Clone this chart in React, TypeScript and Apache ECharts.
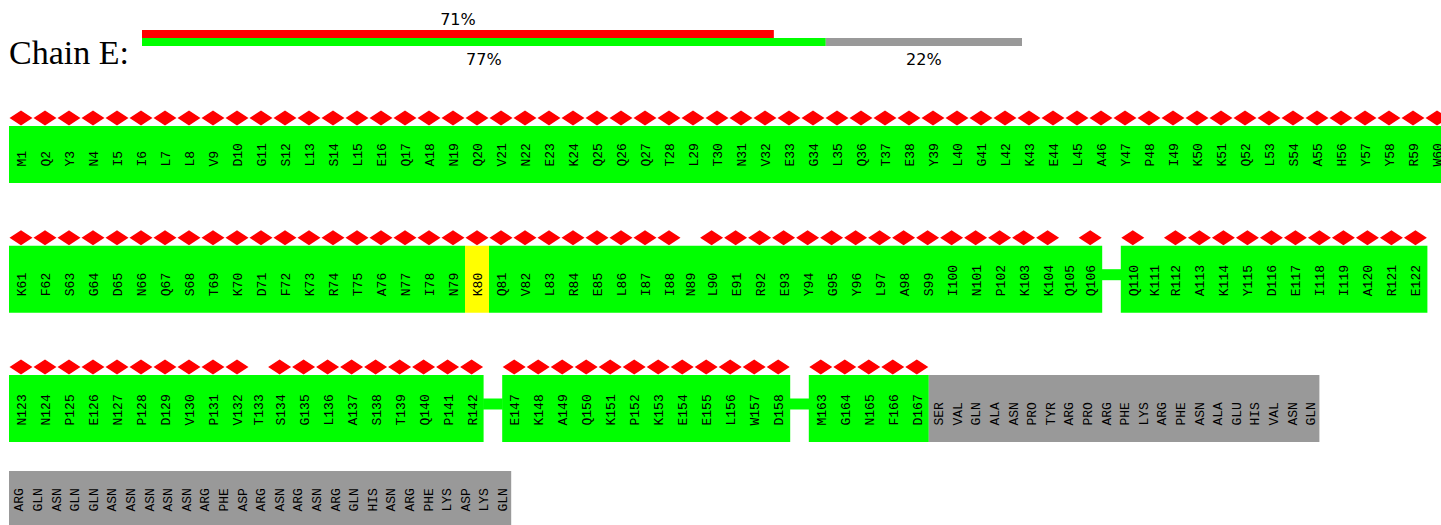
import React, { useEffect, useRef } from "react";
import * as echarts from "echarts";

// ---------- data ----------
const chainLabel = "Chain E:";
const segmentStarts = [1, 61, 110, 123, 147, 163];
const segmentSequences = [
  "MQYNIILLVDGSLSLEQANQVNEKQQQTLTNVEGLQTEYLGLKELAYPIKKQLSAHYYRW",
  "KFSGDNQSTKDFKRTANINKQVLRELIINLEREYGYLASINPKKQQ",
  "QKRAKYDEIIARE",
  "NNPENPDVPVTSGLASTQPR",
  "EKAQKPKEELWD",
  "MGNFD",
];
const segmentRows = [0, 1, 1, 2, 2, 2];
const unmodelledResidues = [
  "SER", "VAL", "GLN", "ALA", "ASN", "PRO", "TYR", "ARG", "PRO", "ARG", "PHE",
  "LYS", "ARG", "PHE", "ASN", "ALA", "GLU", "HIS", "VAL", "ASN", "GLN",
  "ARG", "GLN", "ASN", "GLN", "GLN", "ASN", "ASN", "ASN", "ASN", "ASN", "ARG",
  "PHE", "ASP", "ARG", "ASN", "ARG", "ASN", "ARG", "GLN", "HIS", "ASN", "ARG",
  "PHE", "LYS", "ASP", "LYS", "GLN",
];
const unmodelledPerRow = [0, 0, 21, 27];
const residuesWithoutOutlierMark = [89, 105, 111, 133];
const yellowResidues = [80];
const barCategories = ["quality", "outliers"];
const greenShare = [77.7];
const greyShare = [22.3];
const outlierShare = [71.8];

// ---------- layout / style ----------
const WIDE = 24;
const NARROW = 18.6;
const GAP = 18.6;
const LEFT = 9;
const ROW_TOP = [126, 245.7, 375, 471];
const ROW_H = [57, 67, 67, 57];
const GREEN = "#00ff00";
const YELLOW = "#ffff00";
const GREY = "#999999";
const RED = "#ff0000";

type Res = { x0: number; x1: number; row: number; label: string };
type Run = { x0: number; x1: number; row: number; color: string; link: boolean };

function buildLayout() {
  const residues: Res[] = [];
  const runs: Run[] = [];
  const diamonds: number[][] = [];
  let un = 0;
  const addRun = (x0: number, x1: number, row: number, color: string) => {
    const last = runs[runs.length - 1];
    if (last && !last.link && last.row === row && last.color === color && Math.abs(last.x1 - x0) < 1e-6) last.x1 = x1;
    else runs.push({ x0, x1, row, color, link: false });
  };
  for (let r = 0; r < ROW_TOP.length; r++) {
    let x = LEFT;
    let first = true;
    segmentStarts.forEach((start, s) => {
      if (segmentRows[s] !== r) return;
      if (!first) {
        runs.push({ x0: x, x1: x + GAP, row: r, color: GREEN, link: true });
        x += GAP;
      }
      first = false;
      const seq = segmentSequences[s];
      for (let i = 0; i < seq.length; i++) {
        const num = start + i;
        const mark = !residuesWithoutOutlierMark.includes(num);
        const w = mark ? WIDE : NARROW;
        residues.push({ x0: x, x1: x + w, row: r, label: seq[i] + num });
        addRun(x, x + w, r, yellowResidues.includes(num) ? YELLOW : GREEN);
        if (mark) diamonds.push([x + w / 2, ROW_TOP[r] - 8]);
        x += w;
      }
    });
    for (let k = 0; k < unmodelledPerRow[r]; k++) {
      residues.push({ x0: x, x1: x + NARROW, row: r, label: unmodelledResidues[un++] });
      addRun(x, x + NARROW, r, GREY);
      x += NARROW;
    }
  }
  return { residues, runs, diamonds };
}

export default function App() {
  const ref = useRef<HTMLDivElement>(null);
  useEffect(() => {
    if (!ref.current) return;
    const chart = echarts.init(ref.current, undefined, { renderer: "svg" });
    const { residues, runs, diamonds } = buildLayout();
    const pct = (v: number) => Math.floor(v) + "%";
    const labelStyle = { fontFamily: "DejaVu Sans", fontSize: 16, color: "#000" };
    chart.setOption({
      animation: false,
      title: {
        text: chainLabel,
        left: 9,
        top: 35,
        padding: 0,
        textStyle: { fontFamily: "Liberation Serif", fontSize: 34, fontWeight: "normal", color: "#000" },
      },
      grid: [
        { left: 0, right: 0, top: 0, bottom: 0 },
        { left: 142, top: 30, width: 880, height: 16 },
      ],
      xAxis: [
        { type: "value", gridIndex: 0, min: 0, max: 1441, show: false },
        { type: "value", gridIndex: 1, min: 0, max: 100, show: false },
      ],
      yAxis: [
        { type: "value", gridIndex: 0, min: 0, max: 525, inverse: true, show: false },
        { type: "category", gridIndex: 1, data: barCategories, show: false },
      ],
      series: [
        {
          type: "custom",
          xAxisIndex: 0,
          yAxisIndex: 0,
          silent: true,
          z: 1,
          data: runs.map((it) => [it.x0, it.x1, ROW_TOP[it.row], ROW_TOP[it.row] + ROW_H[it.row]]),
          renderItem: (params: any, api: any) => {
            const it = runs[params.dataIndex];
            const x0 = api.value(0), x1 = api.value(1), top = api.value(2), bottom = api.value(3);
            const a = it.link ? api.coord([x0 - 0.5, top + 23.5]) : api.coord([x0, top]);
            const b = it.link ? api.coord([x1 + 0.5, top + 34.5]) : api.coord([x1, bottom]);
            return { type: "rect", shape: { x: a[0], y: a[1], width: b[0] - a[0], height: b[1] - a[1] }, style: { fill: it.color } };
          },
        },
        {
          type: "custom",
          xAxisIndex: 0,
          yAxisIndex: 0,
          silent: true,
          z: 3,
          data: residues.map((it) => [(it.x0 + it.x1) / 2, ROW_TOP[it.row] + ROW_H[it.row]]),
          renderItem: (params: any, api: any) => {
            const it = residues[params.dataIndex];
            const c = api.coord([api.value(0), api.value(1) - 16.5]);
            return {
              type: "text",
              x: c[0] + 1.5,
              y: c[1],
              rotation: Math.PI / 2,
              style: { text: it.label, fill: "#000", font: '13px "Liberation Mono"', align: "left", verticalAlign: "middle" },
            };
          },
        },
        {
          type: "scatter",
          xAxisIndex: 0,
          yAxisIndex: 0,
          silent: true,
          symbol: "diamond",
          symbolSize: [23, 15],
          itemStyle: { color: RED, opacity: 1 },
          data: diamonds,
        },
        {
          type: "bar",
          xAxisIndex: 1,
          yAxisIndex: 1,
          stack: "q",
          silent: true,
          barWidth: 8,
          itemStyle: { color: GREEN },
          label: { show: true, position: "bottom", distance: 5, formatter: (p: any) => pct(p.value), ...labelStyle },
          data: [greenShare[0], "-"],
        },
        {
          type: "bar",
          xAxisIndex: 1,
          yAxisIndex: 1,
          stack: "q",
          silent: true,
          barWidth: 8,
          itemStyle: { color: GREY },
          label: { show: true, position: "bottom", distance: 5, formatter: (p: any) => pct(p.value), ...labelStyle },
          data: [greyShare[0], "-"],
        },
        {
          type: "bar",
          xAxisIndex: 1,
          yAxisIndex: 1,
          stack: "q",
          silent: true,
          barWidth: 8,
          itemStyle: { color: RED },
          label: { show: true, position: "top", distance: 3, formatter: (p: any) => pct(p.value), ...labelStyle },
          data: ["-", outlierShare[0]],
        },
      ],
    });
    return () => chart.dispose();
  }, []);
  return <div ref={ref} style={{ position: "absolute", left: 0, top: 0, width: 1441, height: 525 }} />;
}
